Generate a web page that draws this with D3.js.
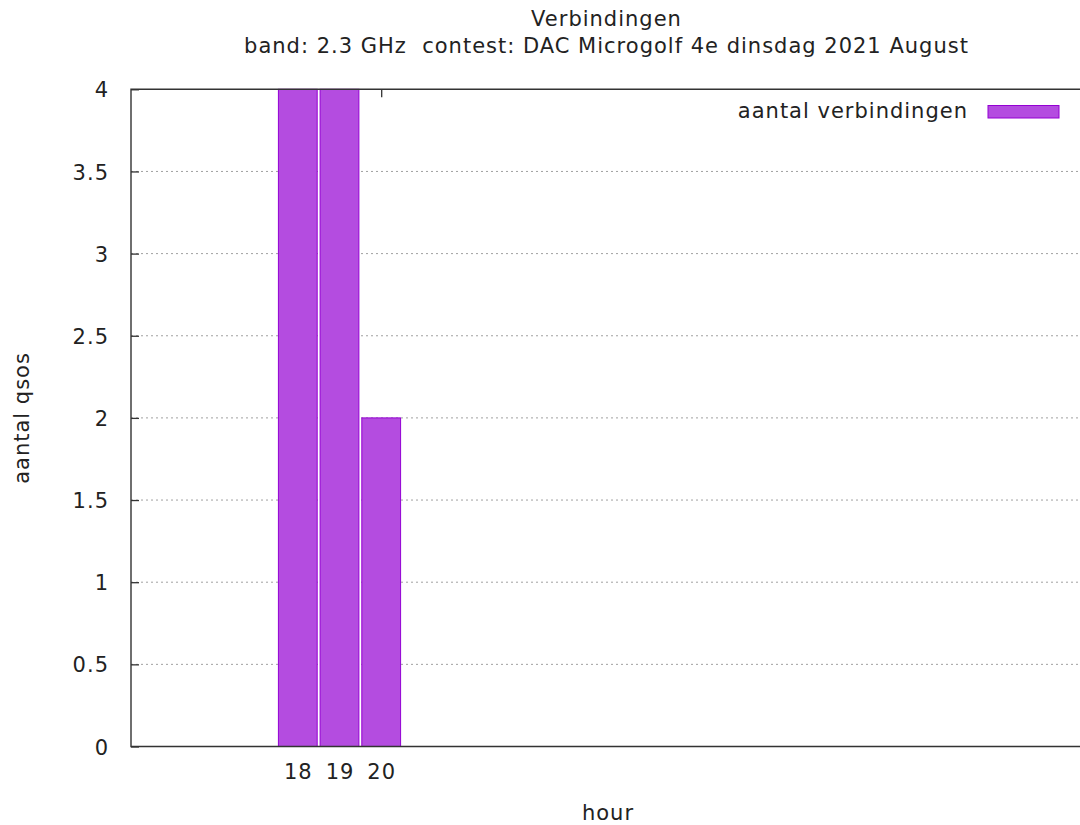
<!DOCTYPE html>
<html><head><meta charset="utf-8">
<script src="https://cdn.jsdelivr.net/npm/d3@7"></script>
<style>body{margin:0;background:#fff}text{font-family:"DejaVu Sans",sans-serif;fill:#222;letter-spacing:1px;white-space:pre}</style>
</head><body><svg id="c" width="1080" height="825"></svg>
<script>
const hours = [18, 19, 20];
const qsos = [4, 4, 2];
const yTicks = [0, 0.5, 1, 1.5, 2, 2.5, 3, 3.5, 4];
const title1 = "Verbindingen";
const title2 = "band: 2.3 GHz  contest: DAC Microgolf 4e dinsdag 2021 August";
const legendLabel = "aantal verbindingen";

const svg = d3.select("#c");
const L = 131, R = 1080, T = 89.3, B = 746.5;
const fs = 21;
const x = d3.scaleLinear().domain([14, 14 + (R - L) / 41.7]).range([L, R]);
const y = d3.scaleLinear().domain([0, 4]).range([B, T]);

// grid
svg.append("g").selectAll("line").data(yTicks.filter(d => d > 0 && d < 4)).join("line")
  .attr("x1", L).attr("x2", R).attr("y1", d => y(d)).attr("y2", d => y(d))
  .attr("stroke", "#a0a0a0").attr("stroke-width", 1).attr("stroke-dasharray", "2,3");

// y axis ticks (inward) + labels
const ya = d3.axisLeft(y).tickValues(yTicks).tickSize(-8).tickPadding(22).tickFormat(d3.format("~g"));
const gy = svg.append("g").attr("transform", `translate(${L},0)`).call(ya);
gy.select(".domain").remove();
gy.selectAll("line").attr("stroke", "#333").attr("stroke-width", 1.3);
gy.selectAll("text").attr("font-size", fs).attr("font-family", "DejaVu Sans").attr("fill", "#222").attr("dy", "0.36em");

// x axis ticks (bottom inward, top mirrored)
const xa = d3.axisBottom(x).tickValues(hours).tickSize(-8).tickPadding(18).tickFormat(d3.format("d"));
const gx = svg.append("g").attr("transform", `translate(0,${B})`).call(xa);
gx.select(".domain").remove();
gx.selectAll("line").attr("stroke", "#333").attr("stroke-width", 1.3);
gx.selectAll("text").attr("font-size", fs).attr("font-family", "DejaVu Sans").attr("fill", "#222");
const gxt = svg.append("g").attr("transform", `translate(0,${T})`).call(d3.axisTop(x).tickValues(hours).tickSize(-8).tickFormat(""));
gxt.select(".domain").remove();
gxt.selectAll("line").attr("stroke", "#333").attr("stroke-width", 1.3);

// bars
const bw = 0.93;
svg.append("g").selectAll("rect").data(hours).join("rect")
  .attr("x", (d) => x(d - bw / 2)).attr("width", x(bw) - x(0))
  .attr("y", (d, i) => y(qsos[i])).attr("height", (d, i) => B - y(qsos[i]))
  .attr("fill", "#b44ce0").attr("stroke", "#9400d3").attr("stroke-width", 1);

// border
svg.append("path").attr("d", `M${R},${T}H${L}V${B}H${R}`).attr("fill", "none").attr("stroke", "#333").attr("stroke-width", 1.4);

// titles
const cx = (L + R) / 2 + 1;
svg.append("text").attr("x", cx).attr("y", 26).attr("text-anchor", "middle").attr("font-size", fs).text(title1);
svg.append("text").attr("x", cx).attr("y", 53).attr("text-anchor", "middle").attr("font-size", fs).text(title2);
svg.append("text").attr("x", 608).attr("y", 820).attr("text-anchor", "middle").attr("font-size", fs).text("hour");
svg.append("text").attr("transform", "translate(29,418) rotate(-90)").attr("text-anchor", "middle").attr("font-size", fs).text("aantal qsos");

// legend
svg.append("text").attr("x", 968).attr("y", 118).attr("text-anchor", "end").attr("font-size", fs).text(legendLabel);
svg.append("rect").attr("x", 988).attr("y", 105.5).attr("width", 71).attr("height", 12.5)
  .attr("fill", "#b44ce0").attr("stroke", "#9400d3").attr("stroke-width", 1);
</script></body></html>
